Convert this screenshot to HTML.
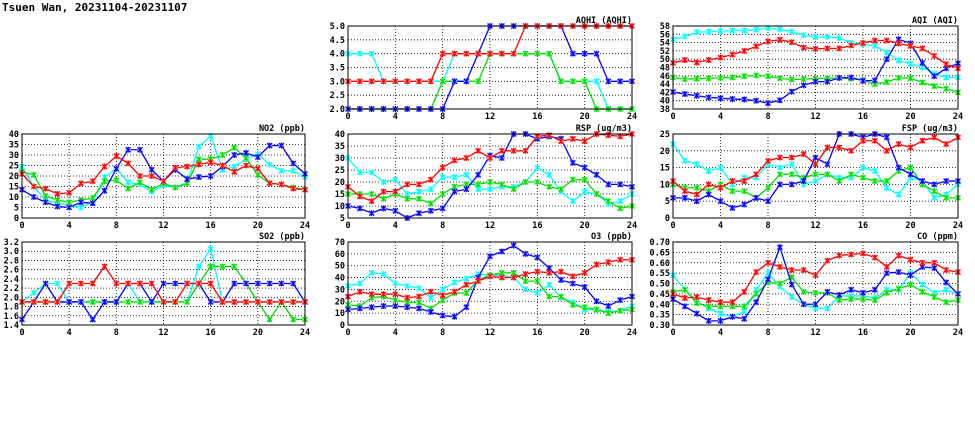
<!DOCTYPE html>
<html><head><meta charset="utf-8"><style>
body{margin:0;background:#fff;width:975px;height:447px;overflow:hidden}
svg{display:block;font-family:"DejaVu Sans Mono","Liberation Mono",monospace}
</style></head><body>
<svg id="c" width="975" height="447" xmlns="http://www.w3.org/2000/svg">
<text x="2" y="11" font-size="11" font-weight="bold">Tsuen Wan, 20231104-20231107</text>
</svg>
<script>
const hours=[0,1,2,3,4,5,6,7,8,9,10,11,12,13,14,15,16,17,18,19,20,21,22,23,24];
const xTicks=[0,4,8,12,16,20,24];
const seriesColors=['#ff0000','#00dd00','#0000ff','#00ffff'];
const aqhiTicks=['2.0','2.5','3.0','3.5','4.0','4.5','5.0'];
const aqhiRed=[3,3,3,3,3,3,3,3,4,4,4,4,4,4,4,5,5,5,5,5,5,5,5,5,5];
const aqhiGreen=[2,2,2,2,2,2,2,2,3,3,3,3,4,4,4,4,4,4,3,3,3,2,2,2,2];
const aqhiBlue=[2,2,2,2,2,2,2,2,2,3,3,4,5,5,5,5,5,5,5,4,4,4,3,3,3];
const aqhiCyan=[4,4,4,3,3,3,3,3,3,4,4,4,4,4,4,4,4,4,3,3,3,3,2,2,2];
const aqiTicks=['38','40','42','44','46','48','50','52','54','56','58'];
const aqiRed=[49.1,49.8,49.2,49.8,50.4,51.1,52,53.1,54.3,54.7,54.1,52.8,52.5,52.6,52.6,53.3,53.9,54.5,54.5,53.8,53.2,52.6,50.8,48.8,47.8];
const aqiGreen=[45.6,45.2,45.3,45.4,45.5,45.6,45.9,46.1,45.9,45.4,45.1,45.2,45.3,45.4,45.5,45.3,45,44,44.5,45.5,45.4,44.4,43.5,42.9,42];
const aqiBlue=[42.1,41.6,41.2,40.8,40.6,40.4,40.3,40,39.4,40.1,42.2,43.7,44.6,44.6,45.5,45.6,44.8,44.9,50,54.8,53.8,49.1,45.9,47.8,49];
const aqiCyan=[54.8,55.5,56.5,56.6,56.8,56.9,56.9,57.1,57.5,57.2,56.6,55.8,55.3,55.4,55.1,54,53.6,53.2,51.6,49.7,48.9,48.1,46.5,45.6,45.6];
const no2Ticks=['0','5','10','15','20','25','30','35','40'];
const no2Red=[21,15,14,11.5,12,16.5,17.5,24.5,29.5,26,20,20,17.5,24,24.5,25.5,26.5,25,22,25,23.5,16.5,16,14,13.5];
const no2Green=[22,20.5,10.5,8.5,7.5,8.5,9.5,17.5,18,14,17,13.5,16.5,14.5,16.5,28,28,30,33.5,28.5,20.5,16.5,16,14.5,13.5];
const no2Blue=[13.5,10,7.5,5.5,5,7.5,7,13,23.5,32.5,32.5,23,17.5,23,18.5,19.5,20,24.5,30,31,29,34.5,34.5,26,21];
const no2Cyan=[24.5,15,8.5,7,6,5,8,19.5,23.5,17,16,12.5,15.5,14.5,17,34,39,23,24.5,28,30.5,25.5,22.5,22.5,19.5];
const rspTicks=['5','10','15','20','25','30','35','40'];
const rspRed=[18,14,12,16,16,19,19,21,26,29,30,33,30,33,33,33,39,39.5,37,38,37,40,39.5,39,40];
const rspGreen=[15,15,15,13,15,13,13,11,15,18,19,19,20,19,17,20,20,18,17,21,21,15,12,9,10];
const rspBlue=[10,9,7,9,8,5,7,8,9,16,17,23,31,30,40,40,38,39,38,28,26,23,19,19,18];
const rspCyan=[30,24,24,20,21,15,16,17,22,22,23,17,17,18,18,20,26,23,16,12,16,15,11,12,15];
const fspTicks=['0','5','10','15','20','25'];
const fspRed=[11,8,7,10,9,11,11,13,17,18,18,19,16,21,21,20,23,23,20,22,21,23,24,22,24];
const fspGreen=[10,9,9,8,10,8,8,6,9,13,13,12,13,13,11,13,12,11,11,14,15,10,8,6,6];
const fspBlue=[6,6,5,7,5,3,4,6,5,10,10,11,18,16,25,25,24,25,24,15,13,11,10,11,11];
const fspCyan=[22,17,16,14,15,10,12,12,16,15,16,10,11,13,12,12,15,14,9,7,12,11,6,7,10];
const so2Ticks=['1.4','1.6','1.8','2.0','2.2','2.4','2.6','2.8','3.0','3.2'];
const so2Red=[1.9,1.9,1.9,1.9,2.3,2.3,2.3,2.67,2.3,2.3,2.3,2.3,1.9,1.9,2.3,2.3,2.3,1.9,1.9,1.9,1.9,1.9,1.9,1.9,1.9];
const so2Green=[1.9,1.9,1.9,1.9,1.9,1.9,1.9,1.9,1.9,1.9,1.9,1.9,1.9,1.9,1.9,2.3,2.67,2.67,2.67,2.3,1.9,1.52,1.9,1.52,1.52];
const so2Blue=[1.52,1.9,2.3,1.9,1.9,1.9,1.52,1.9,1.9,2.3,2.3,1.9,2.3,2.3,2.3,2.3,1.9,1.9,2.3,2.3,2.3,2.3,2.3,2.3,1.9];
const so2Cyan=[1.9,2.1,2.3,2.3,1.9,1.9,1.9,1.9,1.9,2.3,1.9,1.9,1.9,1.9,1.9,2.67,3.05,1.9,1.9,1.9,1.9,1.9,1.9,1.9,1.9];
const o3Ticks=['0','10','20','30','40','50','60','70'];
const o3Red=[24,28,26,26,26,23,24,28,25,28,34,37,41,40,40,43,45,44,45,41,44,51,53,55,55];
const o3Green=[17,16,23,24,21,19,19,14,21,27,27,38,42,44,44,37,37,24,24,17,15,13,10,12,13];
const o3Blue=[13,14,15,16,16,15,14,11,8,7,15,40,58,62,67,60,57,48,38,35,32,20,16,21,24];
const o3Cyan=[33,35,44,43,35,33,31,23,30,36,39,43,42,42,40,30,27,34,23,19,13,13,11,12,16];
const coTicks=['0.30','0.35','0.40','0.45','0.50','0.55','0.60','0.65','0.70'];
const coRed=[.45,.43,.435,.42,.41,.41,.46,.555,.60,.58,.565,.565,.54,.61,.635,.64,.645,.625,.58,.635,.615,.60,.60,.565,.555];
const coGreen=[.46,.47,.405,.39,.39,.39,.39,.45,.505,.50,.53,.46,.455,.455,.42,.425,.425,.42,.455,.475,.495,.46,.435,.41,.42];
const coBlue=[.425,.39,.355,.32,.32,.34,.33,.41,.52,.675,.495,.40,.40,.46,.445,.47,.455,.47,.55,.555,.54,.58,.575,.505,.45];
const coCyan=[.54,.47,.415,.38,.355,.34,.365,.47,.55,.485,.435,.40,.38,.38,.44,.44,.44,.43,.47,.47,.55,.495,.455,.47,.45];

const NS='http://www.w3.org/2000/svg';
const svg=document.getElementById('c');
const cols=[[22,305],[348,632],[673,958]];
const rows=[[26,109],[134,218],[242,325]];
const panels=[
 {id:'aqhi',title:'AQHI (AQHI)',c:1,r:0,ticks:aqhiTicks,s:[aqhiCyan,aqhiGreen,aqhiBlue,aqhiRed]},
 {id:'aqi',title:'AQI (AQI)',c:2,r:0,ticks:aqiTicks,s:[aqiCyan,aqiGreen,aqiBlue,aqiRed]},
 {id:'no2',title:'NO2 (ppb)',c:0,r:1,ticks:no2Ticks,s:[no2Cyan,no2Green,no2Blue,no2Red]},
 {id:'rsp',title:'RSP (ug/m3)',c:1,r:1,ticks:rspTicks,s:[rspCyan,rspGreen,rspBlue,rspRed]},
 {id:'fsp',title:'FSP (ug/m3)',c:2,r:1,ticks:fspTicks,s:[fspCyan,fspGreen,fspBlue,fspRed]},
 {id:'so2',title:'SO2 (ppb)',c:0,r:2,ticks:so2Ticks,s:[so2Cyan,so2Green,so2Blue,so2Red]},
 {id:'o3',title:'O3 (ppb)',c:1,r:2,ticks:o3Ticks,s:[o3Cyan,o3Green,o3Blue,o3Red]},
 {id:'co',title:'CO (ppm)',c:2,r:2,ticks:coTicks,s:[coCyan,coGreen,coBlue,coRed]}
];
const sColors=['#00ffff','#00dd00','#0000ff','#ff0000'];
const sLight=['#aaffff','#aaffaa','#aaaaff','#ffaaaa'];
const sNames=['cyan','green','blue','red'];
function mk(tag,attrs,parent){const e=document.createElementNS(NS,tag);for(const k in attrs)e.setAttribute(k,attrs[k]);(parent||svg).appendChild(e);return e;}
panels.forEach(p=>{
 const [x0,x1]=cols[p.c],[y0,y1]=rows[p.r];
 const g=mk('g',{});
 
 
 const tv=p.ticks.map(Number);const ymin=tv[0],ymax=tv[tv.length-1];
 const X=h=>x0+(h/24)*(x1-x0);
 const Y=v=>y1-(v-ymin)/(ymax-ymin)*(y1-y0);
 // grid
 tv.forEach((v,i)=>{
  if(i>0&&i<tv.length-1){const l=mk('line',{x1:x0,x2:x1,y1:Y(v),y2:Y(v),stroke:'#000','stroke-width':0.8,'stroke-dasharray':'1,2'},g);
   
   }
  const t=mk('text',{x:x0-3,y:Y(v)+3,'font-size':8.5,'font-weight':'bold','text-anchor':'end'},g);
  t.textContent=p.ticks[i];
  
  
 });
 xTicks.forEach(h=>{
  if(h>0&&h<24){const l=mk('line',{x1:X(h),x2:X(h),y1:y0,y2:y1,stroke:'#000','stroke-width':0.8,'stroke-dasharray':'1,2'},g);
   
   }
  const t=mk('text',{x:X(h),y:y1+10,'font-size':8.5,'font-weight':'bold','text-anchor':'middle'},g);
  t.textContent=String(h);
  
  
 });
 const tt=mk('text',{x:x1,y:y0-3,'font-size':8.5,'font-weight':'bold','text-anchor':'end'},g);
 tt.textContent=p.title;
 
 
 const cp=mk('clipPath',{id:'cp-'+p.id},g);mk('rect',{x:x0-4,y:y0-4,width:x1-x0+8,height:y1-y0+8},cp);
 p.s.forEach((arr,si)=>{
  const sg=mk('g',{'clip-path':'url(#cp-'+p.id+')'},g);
  
  
  const pts=arr.map((v,i)=>X(hours[i])+','+Y(v)).join(' ');
  const pl=mk('polyline',{points:pts,fill:'none',stroke:sColors[si],'stroke-width':1.3},sg);
  
  
  arr.forEach((v,i)=>{
   const cx=X(hours[i]),cy=Y(v);
   const m=mk('g',{},sg);
   
   
   mk('rect',{x:cx-2.5,y:cy-2.5,width:5,height:5,fill:sLight[si]},m);
   mk('path',{d:`M${cx-2.5},${cy-2.5}L${cx+2.5},${cy+2.5}M${cx+2.5},${cy-2.5}L${cx-2.5},${cy+2.5}M${cx},${cy-3}L${cx},${cy+3}`,stroke:sColors[si],'stroke-width':1.2},m);
  });
 });
 const fr=mk('rect',{x:x0,y:y0,width:x1-x0,height:y1-y0,fill:'none',stroke:'#000','stroke-width':1},g);
 
 
});
</script>
</body></html>
